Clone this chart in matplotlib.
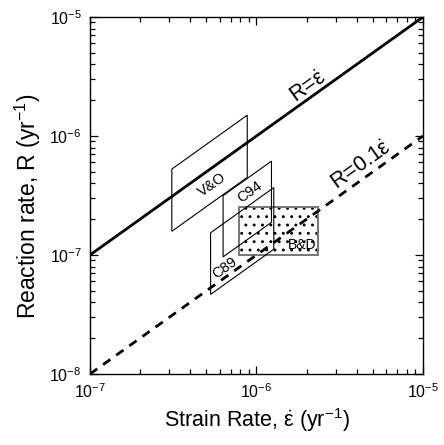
import matplotlib
matplotlib.use("Agg")
import matplotlib.pyplot as plt
from matplotlib.patches import Polygon, Rectangle
import numpy as np

plt.rcParams['font.family'] = ['Liberation Sans', 'DejaVu Sans']
plt.rcParams['mathtext.fontset'] = 'custom'
plt.rcParams['mathtext.rm'] = 'Liberation Sans'
plt.rcParams['mathtext.it'] = 'Liberation Sans'
plt.rcParams['hatch.linewidth'] = 0.9

eps = r'$\dot{\mathrm{\varepsilon}}$'

# reference lines R = k * strain rate
line_x = [1e-7, 1e-5]
line_factor = [1.0, 0.1]
line_labels = ['R=' + eps, 'R=0.1' + eps]
line_label_xy = [(2.05e-6, 2.55e-6), (4.3e-6, 5.6e-7)]

# parallelogram fields: strain-rate range and R/strain-rate ratio range
studies = ['V&O', 'C94', 'C89']
x_lo = [3.1e-7, 6.3e-7, 5.3e-7]
x_hi = [8.8e-7, 1.23e-6, 1.27e-6]
ratio_lo = [0.51, 0.153, 0.088]
ratio_hi = [1.70, 0.50, 0.29]
study_label_xy = [(5.38e-7, 3.87e-7), (9.14e-7, 3.4e-7), (6.47e-7, 7.8e-8)]

# B&D box
bd_x = [7.85e-7, 2.34e-6]
bd_r = [1.0e-7, 2.53e-7]
bd_label_xy = (1.87e-6, 1.21e-7)

fig = plt.figure(figsize=(4.44, 4.45), dpi=100)
ax = fig.add_axes([0.2027, 0.1596, 0.7500, 0.8022])
ax.set_xscale('log')
ax.set_yscale('log')
ax.set_xlim(1e-7, 1e-5)
ax.set_ylim(1e-8, 1e-5)

# B&D stippled box
ax.add_patch(Rectangle((bd_x[0], bd_r[0]), bd_x[1] - bd_x[0], bd_r[1] - bd_r[0],
                       facecolor='none', edgecolor='black', linewidth=0,
                       hatch='..', zorder=2))
ax.add_patch(Rectangle((bd_x[0], bd_r[0]), bd_x[1] - bd_x[0], bd_r[1] - bd_r[0],
                       facecolor='none', edgecolor='#777777', linewidth=1.4,
                       zorder=2))
ax.text(bd_label_xy[0], bd_label_xy[1], 'B&D', fontsize=10,
        ha='center', va='center', zorder=4)

# parallelograms
for name, a, b, lo, hi, (tx, ty) in zip(studies, x_lo, x_hi, ratio_lo, ratio_hi,
                                        study_label_xy):
    verts = [(a, lo * a), (b, lo * b), (b, hi * b), (a, hi * a)]
    ax.add_patch(Polygon(verts, closed=True, facecolor='none',
                         edgecolor='black', linewidth=0.8, zorder=3))
    ax.text(tx, ty, name, fontsize=10.5, rotation=35.6, rotation_mode='anchor',
            ha='center', va='center', zorder=4)

# R = eps lines
styles = ['-', (0, (3.2, 2.6))]
for k, ls, lab, (tx, ty) in zip(line_factor, styles, line_labels, line_label_xy):
    ax.plot(line_x, [k * v for v in line_x], color='black', linewidth=2.0,
            linestyle=ls, zorder=3, solid_capstyle='butt')
    ax.text(tx, ty, lab, fontsize=15.5, rotation=35.6, rotation_mode='anchor',
            ha='center', va='center', zorder=4)

ax.tick_params(which='both', direction='in', top=True, right=True,
               labelsize=11.5, width=0.9)
ax.tick_params(which='major', length=6, pad=6)
ax.tick_params(which='minor', length=3.5)
for s in ax.spines.values():
    s.set_linewidth(1.0)

ax.set_xlabel('Strain Rate, ' + eps + r' (yr$^{-1}$)', fontsize=15.5)
ax.set_ylabel(r'Reaction rate, R (yr$^{-1}$)', fontsize=16.5)
ax.yaxis.set_label_coords(-0.14, 0.47)

fig.savefig('out.png', dpi=100)
